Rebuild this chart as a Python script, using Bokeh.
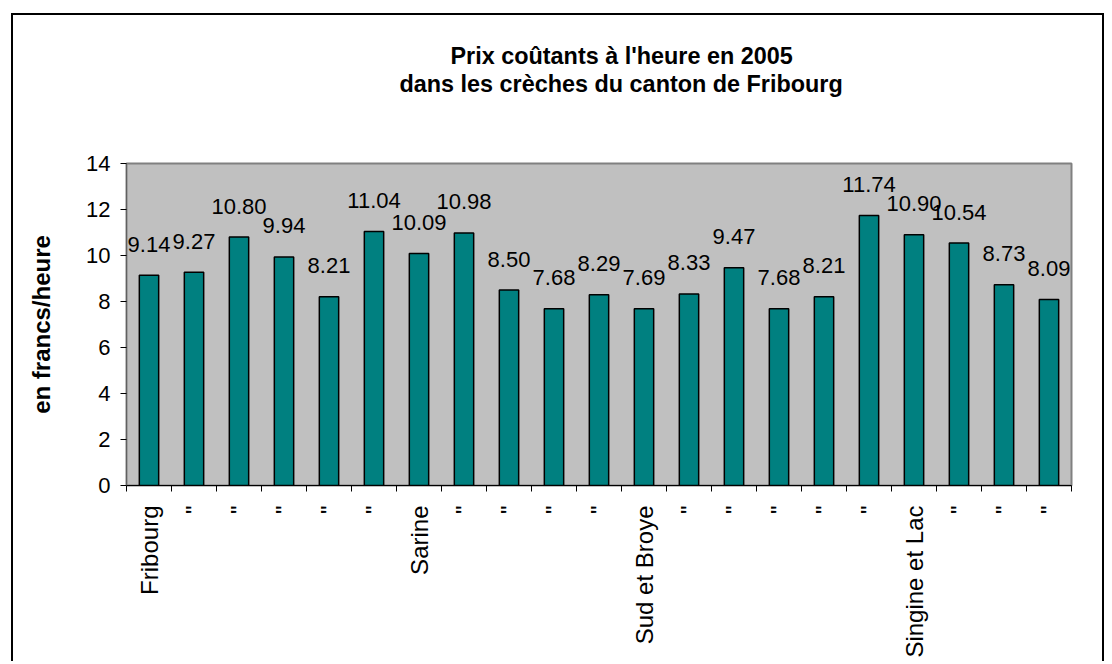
import math
from bokeh.plotting import figure
from bokeh.models import Range1d, FixedTicker, Title, ColumnDataSource
from bokeh.embed import file_html
from bokeh.resources import INLINE
from bokeh.core.properties import value

categories = ["Fribourg", '"', '"', '"', '"', '"', "Sarine", '"', '"', '"', '"',
              "Sud et Broye", '"', '"', '"', '"', '"', "Singine et Lac", '"', '"', '"']
values = [9.14, 9.27, 10.80, 9.94, 8.21, 11.04, 10.09, 10.98, 8.50, 7.68, 8.29,
          7.69, 8.33, 9.47, 7.68, 8.21, 11.74, 10.90, 10.54, 8.73, 8.09]
y_ticks = [0, 2, 4, 6, 8, 10, 12, 14]
title_lines = ["Prix coûtants à l'heure en 2005",
               "dans les crèches du canton de Fribourg"]
y_title = "en francs/heure"

FONT = "Liberation Sans"
n = len(values)
xs = list(range(n))
bounds = [i - 0.5 for i in range(n + 1)]

src = ColumnDataSource(dict(x=xs, top=values, lab=["%.2f" % v for v in values]))

p = figure(width=1093, height=648,
           x_range=Range1d(-0.5, n - 0.5), y_range=Range1d(0, 14),
           output_backend="svg", toolbar_location=None, title=None,
           min_border_left=113, min_border_right=35,
           min_border_top=148, min_border_bottom=178,
           background_fill_color="#C0C0C0", border_fill_color="white",
           outline_line_color="#808080", outline_line_width=2)
# outer chart border (open at the bottom, as in the cropped original)
p.styles = {"margin-left": "11px", "margin-top": "13px",
            "border-left": "2px solid black", "border-top": "2px solid black",
            "border-right": "2px solid black"}

p.grid.visible = False

p.vbar(x="x", top="top", width=0.43, source=src,
       fill_color="#008080", line_color="black", line_width=1.5)
p.text(x="x", y="top", text="lab", source=src, text_align="center",
       text_baseline="alphabetic", y_offset=-31,
       text_font=value(FONT), text_font_size="22px", text_color="black")

xa = p.xaxis[0]
xa.ticker = FixedTicker(ticks=xs, minor_ticks=bounds)
xa.major_label_overrides = {i: c for i, c in zip(xs, categories)}
xa.major_label_orientation = math.pi / 2
xa.major_tick_out = 0
xa.major_tick_in = 0
xa.minor_tick_out = 6
xa.minor_tick_in = 0
xa.minor_tick_line_color = "black"
xa.axis_line_color = "black"
xa.major_label_standoff = 14
xa.major_label_text_font = FONT
xa.major_label_text_font_size = "24px"
xa.major_label_text_color = "black"

ya = p.yaxis[0]
ya.ticker = FixedTicker(ticks=y_ticks)
ya.major_tick_out = 6
ya.major_tick_in = 0
ya.minor_tick_out = 0
ya.minor_tick_in = 0
ya.major_tick_line_color = "black"
ya.axis_line_color = "#606060"
ya.major_label_standoff = 10
ya.major_label_text_font = FONT
ya.major_label_text_font_size = "22px"
ya.major_label_text_color = "black"
ya.axis_label = y_title
ya.axis_label_text_font = FONT
ya.axis_label_text_font_size = "24px"
ya.axis_label_text_font_style = "bold"
ya.axis_label_text_color = "black"
ya.axis_label_standoff = 28

TSTYLE = dict(text_font=FONT, text_font_size="23.4px",
              text_font_style="bold", text_color="black")
# spacer nearest the plot area, then line 2, then line 1
p.add_layout(Title(text="\u00a0", align="left", standoff=39, **TSTYLE), "above")
p.add_layout(Title(text=title_lines[1], align="left", offset=273, standoff=0,
                   **TSTYLE), "above")
p.add_layout(Title(text=title_lines[0], align="left", offset=324, standoff=0,
                   **TSTYLE), "above")

open("out.html", "w").write(file_html(p, INLINE))
